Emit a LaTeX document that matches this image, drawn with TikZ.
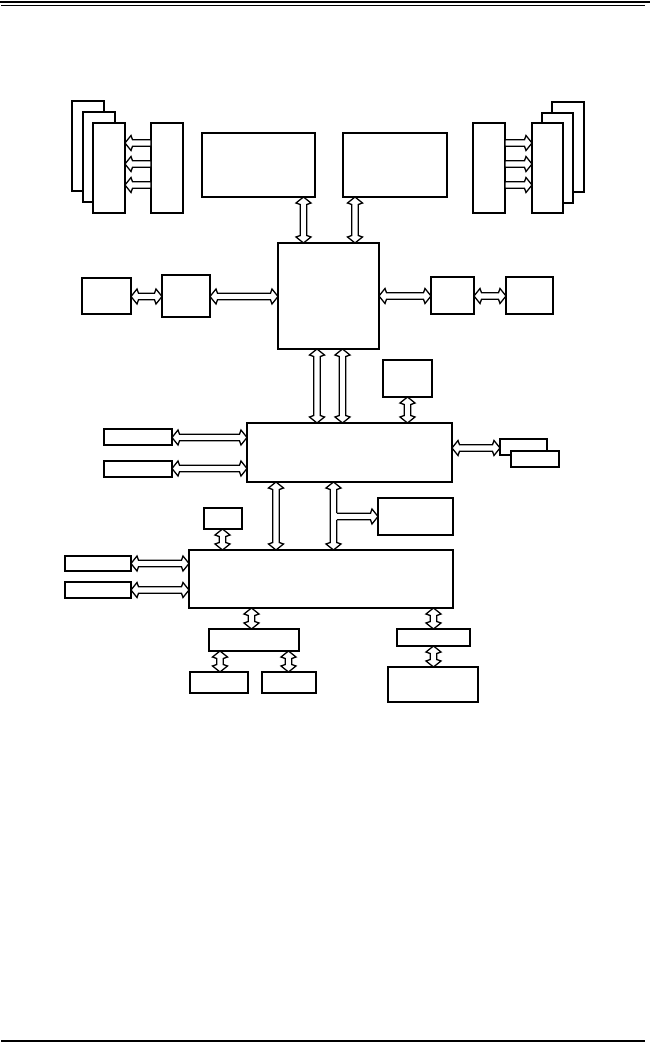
\documentclass[tikz,border=0pt]{standalone}
\usetikzlibrary{calc}
\tikzset{
  box/.style={draw=black, fill=white, line width=1.3pt, inner sep=0pt, outer sep=0pt},
  arr/.style={draw=black, fill=white, line width=1.3pt, line join=miter},
  rule/.style={draw=black}
}
\def\hL{6pt}\def\hB{7.5pt}\def\hH{7.5pt}\def\hS{3.3pt}
% box from corners (x1,y1)-(x2,y2) in px
\newcommand\bx[5]{\node[box, minimum width={(#4-#2)*1pt}, minimum height={(#5-#3)*1pt}] (#1) at ({(#2+#4)/2},{(#3+#5)/2}) {};}
% horizontal double arrow, #1 left end, #2 right end
\newcommand\arrLR[2]{\draw[arr] let \p1=(#1),\p2=(#2) in (\x1,\y1) -- (\x1+\hL,\y1+\hH) -- (\x1+\hB,\y1+\hS) -- (\x2-\hB,\y1+\hS) -- (\x2-\hL,\y1+\hH) -- (\x2,\y1) -- (\x2-\hL,\y1-\hH) -- (\x2-\hB,\y1-\hS) -- (\x1+\hB,\y1-\hS) -- (\x1+\hL,\y1-\hH) -- cycle;}
% single arrow pointing left: tip #1 (left), tail #2 (right)
\newcommand\arrToL[2]{\draw[arr] let \p1=(#1),\p2=(#2) in (\x1,\y1) -- (\x1+\hL,\y1+\hH) -- (\x1+\hB,\y1+\hS) -- (\x2,\y1+\hS) -- (\x2,\y1-\hS) -- (\x1+\hB,\y1-\hS) -- (\x1+\hL,\y1-\hH) -- cycle;}
% single arrow pointing right: tail #1 (left), tip #2 (right)
\newcommand\arrToR[2]{\draw[arr] let \p1=(#1),\p2=(#2) in (\x1,\y1+\hS) -- (\x2-\hB,\y1+\hS) -- (\x2-\hL,\y1+\hH) -- (\x2,\y1) -- (\x2-\hL,\y1-\hH) -- (\x2-\hB,\y1-\hS) -- (\x1,\y1-\hS) -- cycle;}
% vertical double arrow, #1 top end, #2 bottom end
\newcommand\arrUD[2]{\draw[arr] let \p1=(#1),\p2=(#2) in (\x1,\y1) -- (\x1+\hH,\y1-\hL) -- (\x1+\hS,\y1-\hB) -- (\x1+\hS,\y2+\hB) -- (\x1+\hH,\y2+\hL) -- (\x1,\y2) -- (\x1-\hH,\y2+\hL) -- (\x1-\hS,\y2+\hB) -- (\x1-\hS,\y1-\hB) -- (\x1-\hH,\y1-\hL) -- cycle;}
\begin{document}
\begin{tikzpicture}[x=1pt,y=-1pt]
\useasboundingbox (0,0) rectangle (650,1045);
% page rules
\draw[rule, line width=2.2pt] (0,2.3) -- (650,2.3);
\draw[rule, line width=1.3pt] (1,5.4) -- (645,5.4);
\draw[rule, line width=1.3pt] (1,1041) -- (645,1041);
% left memory stack
\bx{dimLc}{72}{101}{104}{191}
\bx{dimLb}{83}{112}{115}{202}
\bx{dimLa}{93}{123}{125}{213}
\bx{mcL}{151}{123}{183}{213}
% CPUs
\bx{cpuA}{202}{133}{315}{197}
\bx{cpuB}{343}{133}{447}{197}
% right memory stack
\bx{mcR}{473}{123}{505}{213}
\bx{dimRc}{552}{102}{584}{192}
\bx{dimRb}{542}{113}{573}{203}
\bx{dimRa}{532}{123}{563}{213}
% north bridge row
\bx{lA}{82}{278}{131}{314}
\bx{lB}{162}{275}{210}{317}
\bx{mch}{278}{243}{379}{349}
\bx{rA}{431}{277}{474}{314}
\bx{rB}{506}{277}{553}{314}
% south bridge row
\bx{top}{383}{360}{432}{397}
\bx{ich}{247}{423}{452}{482}
\bx{sA}{104}{429}{172}{445}
\bx{sB}{104}{461}{172}{477}
\bx{tA}{500}{439}{547}{455}
\bx{tB}{511}{451}{559}{467}
% lower row
\bx{u}{204}{508}{242}{529}
\bx{w}{378}{498}{453}{535}
\bx{sio}{189}{550}{453}{608}
\bx{vA}{65}{556}{131}{571}
\bx{vB}{65}{582}{131}{598}
\bx{x}{209}{629}{299}{651}
\bx{yA}{190}{672}{248}{693}
\bx{yB}{262}{672}{316}{693}
\bx{z}{397}{629}{470}{646}
\bx{aa}{388}{667}{478}{702}
% memory arrows
\foreach \yy in {143,164,185}{
  \arrToL{dimLa.east |- 0,\yy}{mcL.west |- 0,\yy}
  \arrToR{mcR.east |- 0,\yy}{dimRa.west |- 0,\yy}
}
% CPU to MCH
\arrUD{303.5,0 |- cpuA.south}{303.5,0 |- mch.north}
\arrUD{355,0 |- cpuB.south}{355,0 |- mch.north}
% row of MCH
\arrLR{lA.east |- 0,296.5}{lB.west |- 0,296.5}
\arrLR{lB.east |- 0,296.5}{mch.west |- 0,296.5}
\arrLR{mch.east |- 0,296}{rA.west |- 0,296}
\arrLR{rA.east |- 0,296}{rB.west |- 0,296}
% MCH to ICH
\arrUD{317,0 |- mch.south}{317,0 |- ich.north}
\arrUD{342.5,0 |- mch.south}{342.5,0 |- ich.north}
\arrUD{407.5,0 |- top.south}{407.5,0 |- ich.north}
% ICH sides
\arrLR{sA.east |- 0,437.5}{ich.west |- 0,437.5}
\arrLR{sB.east |- 0,468.5}{ich.west |- 0,468.5}
\arrLR{ich.east |- 0,448}{tA.west |- 0,448}
% ICH to SIO
\arrUD{276,0 |- ich.south}{276,0 |- sio.north}
\arrUD{333.5,0 |- ich.south}{333.5,0 |- sio.north}
% branch to w
\fill[white] (333.5,513.3) rectangle (340,519.7);
\draw[arr, fill=none] let \p1=(333.5,0 |- w.west), \p2=(w.west) in
  (\x1+\hS,\y2+\hS) -- (\x2-\hB,\y2+\hS) -- (\x2-\hL,\y2+\hH) -- (\x2,\y2) -- (\x2-\hL,\y2-\hH) -- (\x2-\hB,\y2-\hS) -- (\x1+\hS,\y2-\hS);
\arrUD{222.5,0 |- u.south}{222.5,0 |- sio.north}
\arrLR{vA.east |- 0,563.5}{sio.west |- 0,563.5}
\arrLR{vB.east |- 0,590}{sio.west |- 0,590}
% bottom
\arrUD{251.5,0 |- sio.south}{251.5,0 |- x.north}
\arrUD{220,0 |- x.south}{220,0 |- yA.north}
\arrUD{288.5,0 |- x.south}{288.5,0 |- yB.north}
\arrUD{433.5,0 |- sio.south}{433.5,0 |- z.north}
\arrUD{433.5,0 |- z.south}{433.5,0 |- aa.north}
\end{tikzpicture}
\end{document}
